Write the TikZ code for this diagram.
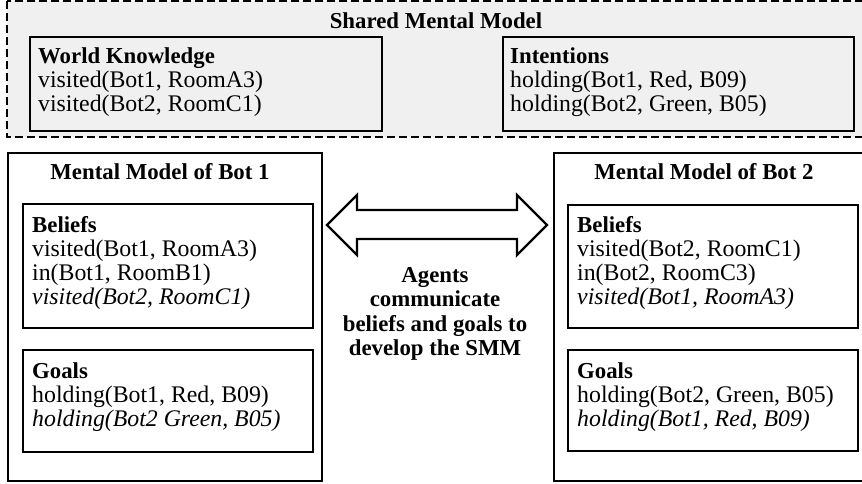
\documentclass[tikz,border=0pt]{standalone}
\usepackage{fontspec}
\setmainfont{Liberation Serif}
\usetikzlibrary{calc}
\definecolor{smmgrey}{HTML}{F0F0F0}
\newcommand{\hd}[1]{{\fontsize{22.8}{24}\selectfont\bfseries #1}}
\begin{document}
\begin{tikzpicture}[x=1pt,y=-1pt,
  frame/.style={draw, line width=2.4pt, inner sep=0pt, anchor=north west},
  txt/.style={anchor=north west, inner sep=0pt, align=left,
               font=\fontsize{23.8}{24}\selectfont},
  title/.style={anchor=north, inner sep=0pt, align=center,
               font=\fontsize{22.8}{24.5}\selectfont\bfseries}]
\clip (0,0) rectangle (862,484);
\fill[white] (0,0) rectangle (862,484);

% shared mental model region
\draw[fill=smmgrey, line width=2.2pt, dash pattern=on 8pt off 4pt]
  (7,1) rectangle (875,137);
\node[title] (smm) at (436,12) {Shared Mental Model};

\node[frame, fill=smmgrey, minimum width=352pt, minimum height=94pt] (wk) at (29,36) {};
\node[txt] (wktxt) at ($(wk.north west)+(9,11)$)
  {\hd{World Knowledge}\\visited(Bot1, RoomA3)\\visited(Bot2, RoomC1)};

\node[frame, fill=smmgrey, minimum width=351pt, minimum height=94pt] (int) at (502,36) {};
\node[txt] (inttxt) at ($(int.north west)+(8,11)$)
  {\hd{Intentions}\\holding(Bot1, Red, B09)\\holding(Bot2, Green, B05)};

% mental model of bot 1
\node[frame, fill=white, minimum width=314pt, minimum height=328pt] (mm1) at (7,152) {};
\node[title] (mm1t) at (160,163) {Mental Model of Bot 1};
\node[frame, minimum width=290pt, minimum height=124pt] (bel1) at (22,203) {};
\node[txt] (bel1txt) at ($(bel1.north west)+(10,13)$)
  {\hd{Beliefs}\\visited(Bot1, RoomA3)\\in(Bot1, RoomB1)\\\textit{visited(Bot2, RoomC1)}};
\node[frame, minimum width=290pt, minimum height=102pt] (goal1) at (22,349) {};
\node[txt] (goal1txt) at ($(goal1.north west)+(10,13)$)
  {\hd{Goals}\\holding(Bot1, Red, B09)\\\textit{holding(Bot2 Green, B05)}};

% mental model of bot 2
\node[frame, fill=white, minimum width=330pt, minimum height=328pt] (mm2) at (553,152) {};
\node[title] (mm2t) at (704,163) {Mental Model of Bot 2};
\node[frame, minimum width=290pt, minimum height=123pt] (bel2) at (567,204) {};
\node[txt] (bel2txt) at ($(bel2.north west)+(10,12)$)
  {\hd{Beliefs}\\visited(Bot2, RoomC1)\\in(Bot2, RoomC3)\\\textit{visited(Bot1, RoomA3)}};
\node[frame, minimum width=290pt, minimum height=101pt] (goal2) at (567,349) {};
\node[txt] (goal2txt) at ($(goal2.north west)+(10,13)$)
  {\hd{Goals}\\holding(Bot2, Green, B05)\\\textit{holding(Bot1, Red, B09)}};

% two-way communication arrow
\draw[fill=white, line width=2.2pt, line join=miter]
  (327,225) -- (357,195) -- (357,210) -- (517,210) -- (517,195) -- (547,225)
  -- (517,255) -- (517,239) -- (357,239) -- (357,255) -- cycle;
\node[title] (comm) at (435,267)
  {Agents\\communicate\\beliefs and goals to\\develop the SMM};
\end{tikzpicture}
\end{document}
